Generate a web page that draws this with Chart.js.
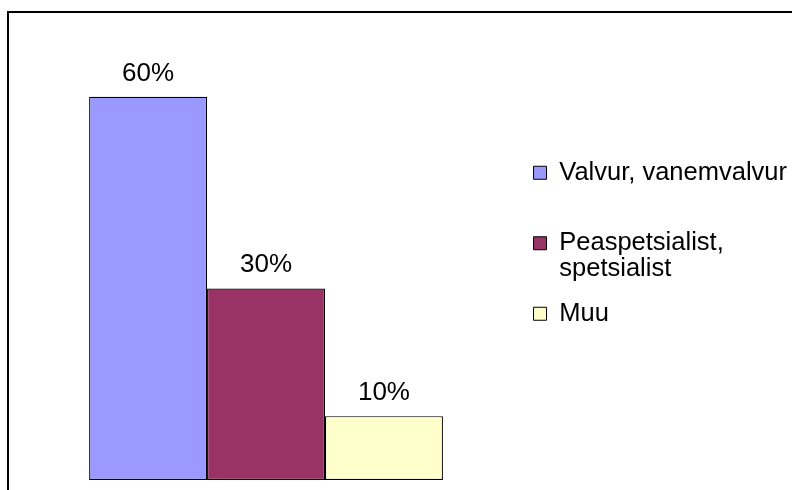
<!DOCTYPE html>
<html>
<head>
<meta charset="utf-8">
<script src="https://cdn.jsdelivr.net/npm/chart.js@4/dist/chart.umd.min.js"></script>
<style>
  html, body { margin: 0; padding: 0; background: #fff; overflow: hidden; }
  #wrap { position: relative; width: 792px; height: 490px; }
  #frame {
    position: absolute; left: 7px; top: 11px; width: 900px; height: 600px;
    border: 2px solid #000; pointer-events: none;
  }
</style>
</head>
<body>
<div id="wrap">
  <canvas id="chart" width="792" height="490"></canvas>
  <div id="frame"></div>
</div>
<script>
// data
const categories = [''];
const seriesNames = ['Valvur, vanemvalvur', 'Peaspetsialist, spetsialist', 'Muu'];
const seriesValues = [[60], [30], [10]];
const seriesColors = ['#9999FF', '#993366', '#FFFFCC'];
// legend text as it is wrapped in the picture
const legendLines = [['Valvur, vanemvalvur', ''], ['Peaspetsialist,', 'spetsialist'], ['Muu', '']];

const fontFamily = 'Arial, "Liberation Sans", sans-serif';

// value labels above the bars
const barLabels = {
    id: 'barLabels',
    afterDatasetsDraw(chart) {
        const ctx = chart.ctx;
        ctx.save();
        ctx.font = '26px ' + fontFamily;
        ctx.fillStyle = '#000';
        ctx.textAlign = 'center';
        ctx.textBaseline = 'alphabetic';
        chart.data.datasets.forEach((ds, i) => {
            chart.getDatasetMeta(i).data.forEach((bar, j) => {
                ctx.fillText(ds.data[j] + '%', bar.x, bar.y - 16);
            });
        });
        ctx.restore();
    }
};

new Chart(document.querySelector('#chart'), {
    type: 'bar',
    data: {
        labels: categories,
        datasets: seriesNames.map((name, i) => ({
            label: name,
            data: seriesValues[i],
            backgroundColor: seriesColors[i],
            borderColor: '#000',
            borderWidth: 1.2,
            borderSkipped: false,
            categoryPercentage: 0.7104,
            barPercentage: 1
        }))
    },
    options: {
        responsive: false,
        animation: false,
        layout: { padding: { left: 17, right: -5, top: 33, bottom: 10 } },
        scales: {
            x: { display: false },
            y: { display: false, min: 0, max: 70 }
        },
        plugins: {
            tooltip: { enabled: false },
            legend: {
                position: 'right',
                labels: {
                    boxWidth: 13,
                    boxHeight: 13,
                    padding: 18.5,
                    color: '#000',
                    font: { family: fontFamily, size: 25.5, lineHeight: 26 / 25.5 },
                    generateLabels(chart) {
                        return chart.data.datasets.map((ds, i) => ({
                            text: legendLines[i],
                            fillStyle: ds.backgroundColor,
                            strokeStyle: '#000',
                            lineWidth: 1,
                            fontColor: '#000',
                            hidden: false,
                            datasetIndex: i
                        }));
                    }
                }
            }
        }
    },
    plugins: [barLabels]
});
</script>
</body>
</html>
